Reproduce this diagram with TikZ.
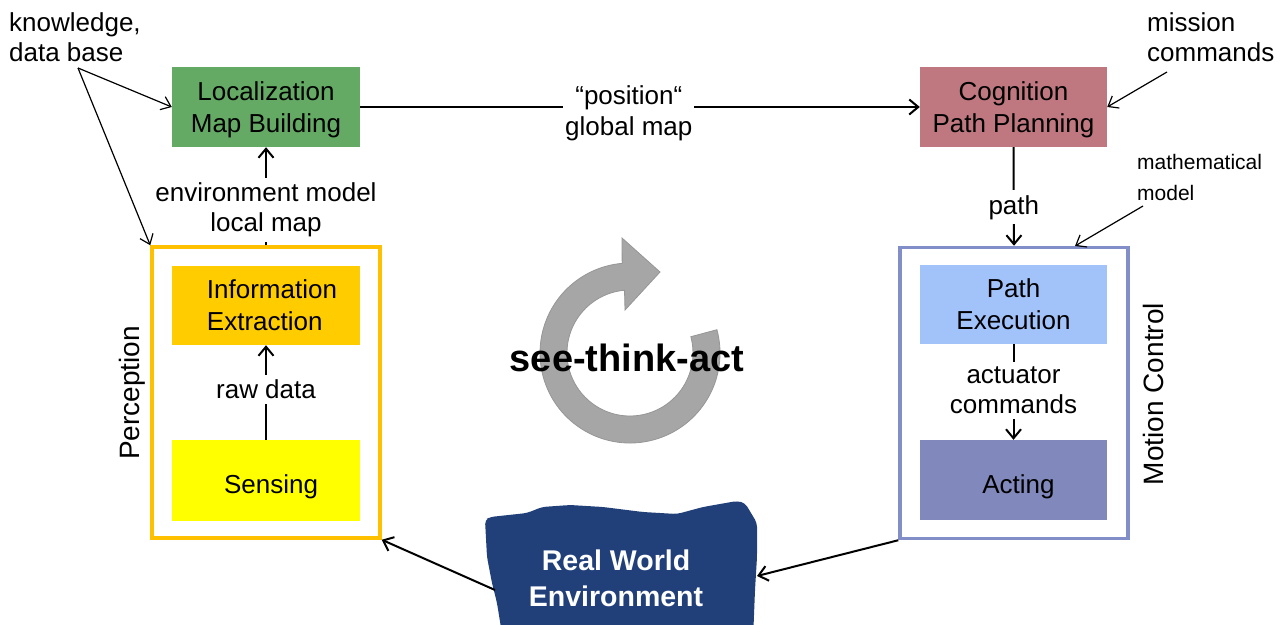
\documentclass[tikz,border=0pt]{standalone}
\usepackage{fontspec}
\setmainfont{Liberation Sans}
\usetikzlibrary{arrows.meta,calc}
\definecolor{locgreen}{RGB}{100,170,100}
\definecolor{cogred}{RGB}{192,120,128}
\definecolor{percorange}{RGB}{255,192,0}
\definecolor{infogold}{RGB}{255,204,0}
\definecolor{senseyellow}{RGB}{255,255,0}
\definecolor{motionblue}{RGB}{130,142,200}
\definecolor{pathblue}{RGB}{162,194,250}
\definecolor{actblue}{RGB}{128,136,188}
\definecolor{envnavy}{RGB}{33,64,122}
\definecolor{ringgray}{RGB}{166,166,166}
\definecolor{ringedge}{RGB}{150,150,150}
\begin{document}
\begin{tikzpicture}[x=1pt,y=-1pt,
  every node/.style={font=\fontsize{26}{30}\selectfont, inner sep=0pt},
  procbox/.style={minimum width=188pt, minimum height=80pt, align=center,
    font=\fontsize{26}{32}\selectfont, text depth=0pt},
  onebox/.style={procbox, text height=26pt},
  grpframe/.style={draw, line width=3.5pt, minimum width=228pt, minimum height=291pt},
  conn/.style={line width=2pt, -{Straight Barb[length=9pt,width=15pt]}},
  annot/.style={line width=1.2pt, -{Straight Barb[length=9pt,width=14pt]}},
  lbl/.style={fill=white, align=center, inner sep=5pt},
  sidelbl/.style={rotate=90, font=\fontsize{28}{32}\selectfont}
]
\useasboundingbox (0,0) rectangle (1282,624);

% group frames
\node[grpframe, draw=percorange] (perc) at (266,392.5) {};
\node[grpframe, draw=motionblue] (mot) at (1014,393) {};

% process boxes
\node[procbox, fill=locgreen] (loc) at (266,107) {Localization\\Map Building};
\node[procbox, fill=cogred, minimum width=187pt] (cog) at (1013.5,107) {Cognition\\Path Planning};
\node[procbox, fill=infogold, minimum height=79pt, align=left] (info) at (266,305.5) {\hspace*{12pt}Information\\\hspace*{12pt}Extraction};
\node[onebox, fill=senseyellow, minimum height=81pt] (sens) at (266,480.5) {\hspace*{10pt}Sensing};
\node[procbox, fill=pathblue, minimum width=187pt, minimum height=79pt] (pe) at (1013.5,304.5) {Path\\Execution};
\node[onebox, fill=actblue, minimum width=187pt] (act) at (1013.5,480) {\hspace*{10pt}Acting};

% side labels
\node[sidelbl] (perclbl) at (132,393) {Perception};
\node[sidelbl] (motlbl) at (1153,394) {Motion Control};

% main connectors
\draw[conn] (loc.east) -- node[lbl, pos=0.48, yshift=-6pt, inner xsep=2pt, font=\fontsize{26}{31}\selectfont] {“position“\\global map} (cog.west);
\draw[conn] (perc.north) -- node[lbl, pos=0.36] {environment model\\local map} (loc.south);
\draw[conn] (sens.north) -- node[lbl, pos=0.53] {raw data} (info.south);
\draw[conn] (pe.south) -- node[lbl, pos=0.48] {actuator\\commands} (act.north);
\draw[conn] (cog.south) -- node[lbl, pos=0.61] {path} (mot.north);

% annotations
\node[anchor=west, align=left] (know) at (9,37) {knowledge,\\data base};
\coordinate (knowS) at (78,68);
\draw[annot] (knowS) -- (loc.west);
\draw[annot] (knowS) -- (perc.north west);

\node[anchor=west, align=left] (miss) at (1147,37) {mission\\commands};
\coordinate (missS) at (1167,72);
\draw[annot] (missS) -- (cog.east);

\node[anchor=west, align=left, font=\fontsize{21}{31}\selectfont] (math) at (1137,177) {mathematical\\model};
\coordinate (mathS) at (1143,206);
\coordinate (mathT) at (1075,246);
\draw[annot] (mathS) -- (mathT);

% see-think-act ring
\coordinate (rc) at (630,353);
\filldraw[fill=ringgray, draw=ringedge, line width=0.8pt]
  ($(rc)+(-15:63)$) -- ($(rc)+(-15:90)$)
  arc[start angle=-15, end angle=265, radius=90]
  -- (622,238) -- (660,272) -- (625,310)
  -- ($(rc)+(265:63)$)
  arc[start angle=265, end angle=-15, radius=63] -- cycle;
\node[font=\bfseries\fontsize{38}{40}\selectfont] (stalbl) at (627,358) {see-think-act};

% real world environment blob
\fill[envnavy, rounded corners=4pt] (485,520) -- (490,517) -- (527,513) -- (542,507) -- (570,505)
  -- (603,507) -- (643,512) -- (677,514) -- (703,507) -- (737,501) -- (745,503)
  -- (757,523) -- (757,557) -- (755,590) -- (753,640) -- (503,640) -- (497,603)
  -- (492,583) -- (487,557) -- cycle;
\node[align=center, text=white, font=\bfseries\fontsize{28.5}{36}\selectfont] (env) at (616,578) {Real World\\Environment};
\coordinate (envL) at (495,590);
\coordinate (envR) at (757,576);
\draw[conn] (envL) -- (perc.south east);
\draw[conn] (mot.south west) -- (envR);
\end{tikzpicture}
\end{document}
